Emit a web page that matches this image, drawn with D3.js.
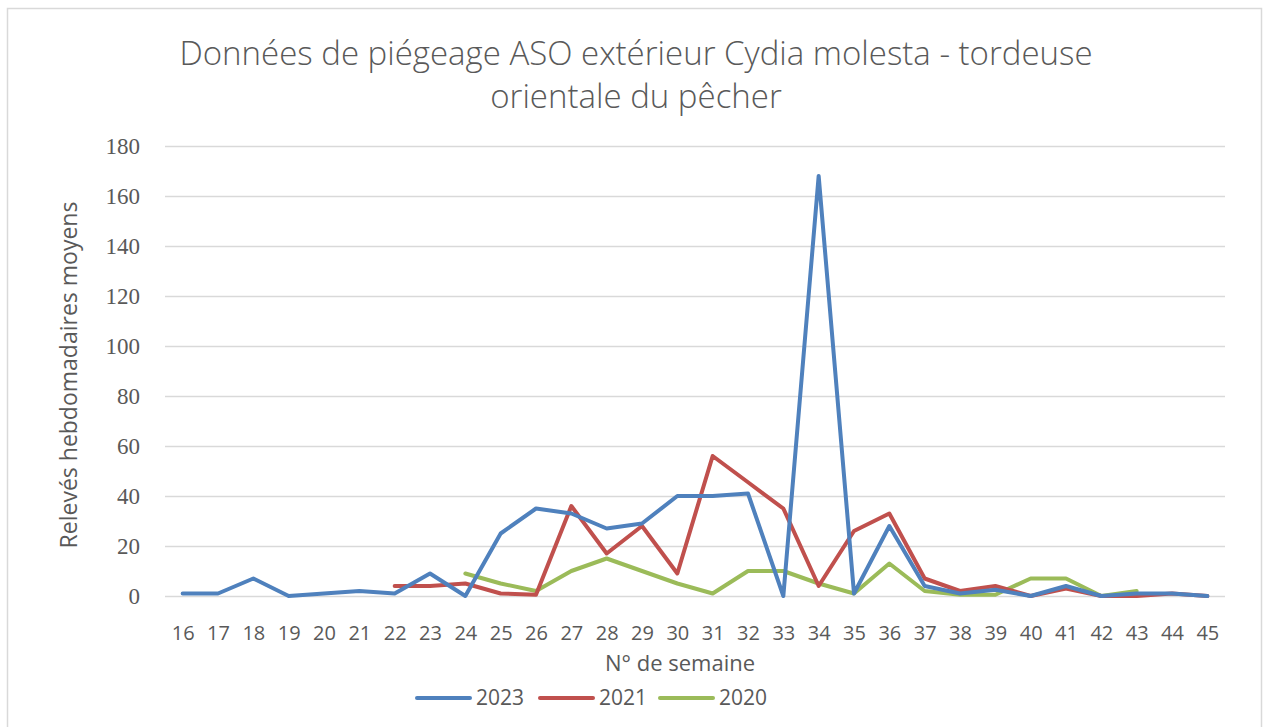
<!DOCTYPE html>
<html>
<head>
<meta charset="utf-8">
<script src="https://cdn.jsdelivr.net/npm/d3@7"></script>
<style>
    body { margin: 0; background: #fff; }
    svg { display: block; }
</style>
</head>
<body>
<svg id="chart" width="1267" height="727"></svg>
<script>
"use strict";

var weeks = d3.range(16, 46);
var yTicks = [0, 20, 40, 60, 80, 100, 120, 140, 160, 180];

// null = pas de relevé cette semaine-là
var values2023 = [1, 1, 7, 0, 1, 2, 1, 9, 0, 25, 35, 33, 27, 29, 40, 40, 41, 0, 168, 1, 28, 4, 1, 2.5, 0, 4, 0, 1, 1, 0];
var values2021 = [null, null, null, null, null, null, 4, 4, 5, 1, 0.5, 36, 17, 28, 9, 56, 45.5, 35, 4, 26, 33, 7, 2, 4, 0, 3, 0, 0, 1, 0];
var values2020 = [null, null, null, null, null, null, null, null, 9, 5, 2, 10, 15, 10, 5, 1, 10, 10, 5, 1, 13, 2, 0.5, 0.5, 7, 7, 0, 2, null, null];

var seriesNames = ["2023", "2021", "2020"];
var seriesColors = ["#4f81bd", "#c0504d", "#9bbb59"];

var titleLines = ["Données de piégeage ASO extérieur Cydia molesta - tordeuse", "orientale du pêcher"];

var textColor = "#595959";
var sansFont = "'Open Sans', Lato, sans-serif";
var svg = d3.select("#chart");

// cadre du graphique
svg.append("rect")
    .attr("x", 7.5).attr("y", 8.5)
    .attr("width", 1254).attr("height", 730)
    .attr("fill", "#fff")
    .attr("stroke", "#d9d9d9")
    .attr("stroke-width", 1.5);

var plot = { left: 165, right: 1225, top: 146, bottom: 596 };

var x = d3.scalePoint()
    .domain(weeks)
    .range([plot.left, plot.right])
    .padding(0.5);

var y = d3.scaleLinear()
    .domain([0, 180])
    .range([plot.bottom, plot.top]);

// titre
svg.append("text")
    .attr("x", 636)
    .attr("y", 65)
    .attr("text-anchor", "middle")
    .attr("fill", textColor)
    .style("font-family", sansFont)
    .style("font-weight", 300)
    .style("font-size", "33px")
    .selectAll("tspan")
    .data(titleLines)
    .enter().append("tspan")
    .attr("x", 636)
    .attr("dy", function(d, i) { return i == 0 ? 0 : 43; })
    .text(function(d) { return d; });

// grille horizontale
var yAxis = d3.axisLeft(y)
    .tickValues(yTicks)
    .tickSize(-(plot.right - plot.left))
    .tickPadding(25);

var gy = svg.append("g")
    .attr("transform", "translate(" + plot.left + ",0)")
    .call(yAxis);
gy.select(".domain").remove();
gy.selectAll(".tick line")
    .attr("stroke", "#d9d9d9")
    .attr("stroke-width", 1.5);
gy.selectAll(".tick text")
    .attr("fill", textColor)
    .style("font-family", "'Liberation Serif', 'DejaVu Serif', serif")
    .style("font-size", "23px");

// axe des semaines
var xAxis = d3.axisBottom(x)
    .tickSize(0)
    .tickPadding(30);

var gx = svg.append("g")
    .attr("transform", "translate(0," + plot.bottom + ")")
    .call(xAxis);
gx.select(".domain").remove();
gx.selectAll(".tick text")
    .attr("fill", textColor)
    .style("font-family", sansFont)
    .style("font-size", "20px");

// titres des axes
svg.append("text")
    .attr("x", 680)
    .attr("y", 671)
    .attr("text-anchor", "middle")
    .attr("fill", textColor)
    .style("font-family", sansFont)
    .style("font-size", "22px")
    .text("N° de semaine");

svg.append("text")
    .attr("transform", "translate(77,375) rotate(-90)")
    .attr("text-anchor", "middle")
    .attr("fill", textColor)
    .style("font-family", sansFont)
    .style("font-size", "23px")
    .text("Relevés hebdomadaires moyens");

// courbes
var lineMaker = d3.line()
    .defined(function(d) { return d != null; })
    .x(function(d, i) { return x(weeks[i]); })
    .y(function(d) { return y(d); });

var allSeries = [values2023, values2021, values2020];

svg.append("g")
    .selectAll("path")
    .data(allSeries.slice().reverse())
    .enter().append("path")
    .attr("d", lineMaker)
    .attr("fill", "none")
    .attr("stroke", function(d, i) { return seriesColors[2 - i]; })
    .attr("stroke-width", 4)
    .attr("stroke-linejoin", "round")
    .attr("stroke-linecap", "round");

// légende
var legendX = [417, 540, 660];
var legend = svg.append("g")
    .selectAll("g")
    .data(seriesNames)
    .enter().append("g")
    .attr("transform", function(d, i) { return "translate(" + legendX[i] + ",698)"; });

legend.append("line")
    .attr("x1", 0).attr("x2", 53)
    .attr("stroke", function(d, i) { return seriesColors[i]; })
    .attr("stroke-width", 4)
    .attr("stroke-linecap", "round");

legend.append("text")
    .attr("x", 59)
    .attr("dy", "0.35em")
    .attr("fill", textColor)
    .style("font-family", sansFont)
    .style("font-size", "21px")
    .text(function(d) { return d; });
</script>
</body>
</html>
